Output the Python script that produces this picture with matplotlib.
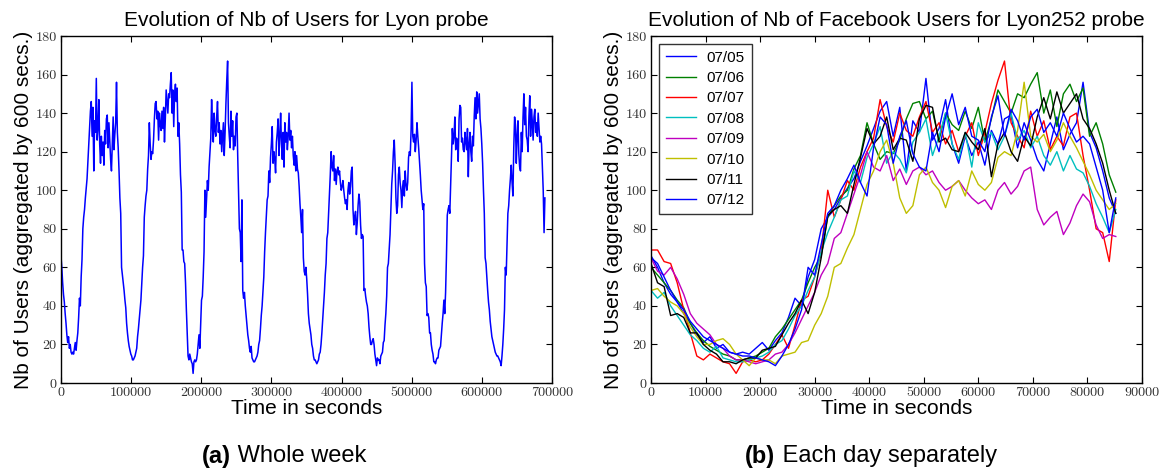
import numpy as np
import matplotlib
matplotlib.use('Agg')
import matplotlib.pyplot as plt

# nb of users, one value every 1200 s, one list per day
d0705 = [66, 60, 52, 46, 42, 36, 31, 25, 21, 24, 18, 20, 16, 15, 16, 15, 18, 21, 17, 22,
         26, 34, 44, 40, 55, 64, 80, 86, 90, 96, 101, 106, 115, 123, 132, 141, 146, 128, 143, 110,
         136, 130, 158, 126, 132, 147, 124, 114, 128, 118, 125, 113, 131, 124, 137, 139, 122, 135, 126, 116,
         110, 124, 138, 121, 129, 135, 156, 130, 122, 110, 96, 88]
d0706 = [60, 56, 52, 48, 43, 39, 31, 26, 22, 19, 17, 15, 14, 12, 12, 13, 14, 16, 18, 24,
         28, 33, 38, 43, 52, 60, 66, 86, 92, 97, 100, 111, 118, 135, 124, 116, 120, 119, 126, 137,
         145, 146, 137, 141, 126, 140, 134, 131, 141, 132, 143, 125, 137, 152, 146, 140, 150, 148, 155, 161,
         140, 152, 133, 150, 155, 146, 153, 128, 135, 124, 108, 99]
d0707 = [69, 69, 63, 62, 52, 38, 26, 14, 12, 15, 13, 11, 10, 5, 11, 12, 11, 12, 15, 20,
         25, 18, 30, 43, 45, 55, 68, 100, 86, 95, 105, 100, 112, 120, 127, 147, 133, 125, 140, 131,
         128, 138, 146, 130, 135, 124, 131, 120, 128, 135, 118, 130, 145, 157, 167, 135, 128, 122, 141, 128,
         136, 121, 128, 123, 138, 140, 118, 100, 80, 78, 63, 95]
d0708 = [48, 44, 47, 40, 35, 30, 25, 22, 18, 16, 19, 13, 12, 11, 11, 12, 13, 14, 16, 20,
         22, 28, 35, 40, 48, 55, 68, 78, 86, 95, 97, 110, 104, 117, 124, 133, 114, 120, 116, 109,
         125, 130, 137, 118, 128, 140, 124, 116, 130, 112, 135, 125, 130, 121, 128, 140, 126, 131, 122, 128,
         118, 113, 120, 110, 118, 111, 109, 102, 93, 86, 78, 90]
d0709 = [65, 58, 56, 60, 54, 46, 36, 31, 28, 25, 20, 18, 14, 12, 12, 11, 10, 11, 12, 15,
         16, 20, 26, 33, 40, 47, 56, 62, 75, 78, 88, 98, 108, 120, 112, 110, 118, 105, 111, 103,
         110, 112, 108, 110, 104, 100, 102, 105, 100, 96, 93, 95, 90, 100, 104, 98, 102, 110, 112, 90,
         82, 86, 89, 77, 83, 92, 98, 94, 82, 75, 77, 76]
d0710 = [48, 49, 45, 42, 40, 36, 29, 24, 20, 20, 22, 23, 20, 15, 12, 9, 13, 12, 12, 10,
         14, 15, 16, 21, 22, 30, 36, 45, 60, 62, 70, 77, 90, 103, 110, 120, 126, 114, 96, 88,
         92, 108, 112, 104, 100, 91, 102, 105, 97, 110, 103, 100, 104, 117, 120, 118, 131, 156, 128, 125,
         129, 120, 126, 135, 128, 122, 115, 108, 100, 95, 90, 93]
d0711 = [62, 52, 50, 35, 36, 34, 26, 26, 20, 17, 15, 11, 11, 10, 12, 13, 13, 17, 18, 19,
         25, 31, 36, 43, 36, 47, 65, 87, 90, 92, 88, 103, 117, 132, 124, 128, 138, 121, 127, 126,
         115, 137, 144, 143, 125, 127, 121, 120, 130, 125, 121, 132, 107, 124, 130, 120, 115, 128, 123, 138,
         148, 137, 151, 140, 145, 150, 137, 132, 124, 114, 100, 88]
d0712 = [65, 62, 55, 48, 42, 38, 32, 28, 24, 22, 20, 18, 16, 15, 14, 14, 13, 12, 11, 9,
         14, 20, 28, 38, 60, 56, 72, 88, 92, 100, 106, 113, 104, 97, 122, 138, 134, 114, 128, 136,
         119, 112, 110, 130, 120, 138, 150, 134, 143, 128, 126, 120, 138, 149, 128, 142, 136, 126, 138, 142,
         130, 135, 128, 140, 132, 125, 128, 124, 112, 100, 78, 96]

day_labels = ['07/05', '07/06', '07/07', '07/08', '07/09', '07/10', '07/11', '07/12']
day_colors = ['#0000ff', '#008000', '#ff0000', '#00bfbf', '#bf00bf', '#bfbf00', '#000000', '#0000ff']

days = [d0705, d0706, d0707, d0708, d0709, d0710, d0711, d0712]
t_day = np.arange(len(d0705)) * 1200

# semaine entiere = jours mis bout a bout
t_week = np.concatenate([t_day + 86400 * k for k in range(len(days))])
y_week = np.concatenate(days)

sans = 'Liberation Sans'
tick_font = 'cmr10'

fig = plt.figure(figsize=(11.59, 4.68), dpi=100)
ax1 = fig.add_axes([0.0526, 0.1816, 0.4236, 0.7415])
ax2 = fig.add_axes([0.5617, 0.1816, 0.4236, 0.7415])


def style_axes(ax, xmax, xstep):
    ax.set_xlim(0, xmax)
    ax.set_ylim(0, 180)
    ax.set_xticks(np.arange(0, xmax + 1, xstep))
    ax.set_yticks(np.arange(0, 181, 20))
    ax.tick_params(direction='in', top=True, right=True, length=4.5, width=0.8,
                   labelsize=10.2, labelcolor='#333333', pad=3)
    for lab in ax.get_xticklabels() + ax.get_yticklabels():
        lab.set_fontfamily(tick_font)
    for sp in ax.spines.values():
        sp.set_linewidth(1.0)
    ax.set_xlabel('Time in seconds', fontsize=15, family=sans, labelpad=0)
    ax.set_ylabel('Nb of Users (aggregated by 600 secs.)', fontsize=15, family=sans, labelpad=2)


ax1.plot(t_week, y_week, color='#0000ff', lw=1.1)
style_axes(ax1, 700000, 100000)
ax1.set_title('Evolution of Nb of Users for Lyon probe', fontsize=15, family=sans, pad=7)

for vals, lab, col in zip(days, day_labels, day_colors):
    ax2.plot(t_day, vals, color=col, lw=1.0, label=lab)
style_axes(ax2, 90000, 10000)
ax2.set_title('Evolution of Nb of Facebook Users for Lyon252 probe', fontsize=15, family=sans, pad=7)
leg = ax2.legend(loc='upper left', prop={'family': sans, 'size': 11}, fancybox=False,
                 labelspacing=0.42, handlelength=2.0, handletextpad=0.7, borderpad=0.45)
leg.get_frame().set_edgecolor('black')
leg.get_frame().set_linewidth(1.0)

# legendes (a) et (b) sous les graphiques
fig.canvas.draw()
renderer = fig.canvas.get_renderer()
for cx, bold, rest in [(284, '(a)', ' Whole week'), (871, '(b)', ' Each day separately')]:
    y = 1 - 456 / 468
    t1 = fig.text(0, y, bold, fontsize=17, family=sans, weight='bold', va='center')
    t2 = fig.text(0, y, rest, fontsize=17, family=sans, va='center')
    w1 = t1.get_window_extent(renderer).width
    w2 = t2.get_window_extent(renderer).width
    x0 = cx - (w1 + w2) / 2
    t1.set_x(x0 / 1159)
    t2.set_x((x0 + w1) / 1159)

fig.savefig('out.png', dpi=100)
